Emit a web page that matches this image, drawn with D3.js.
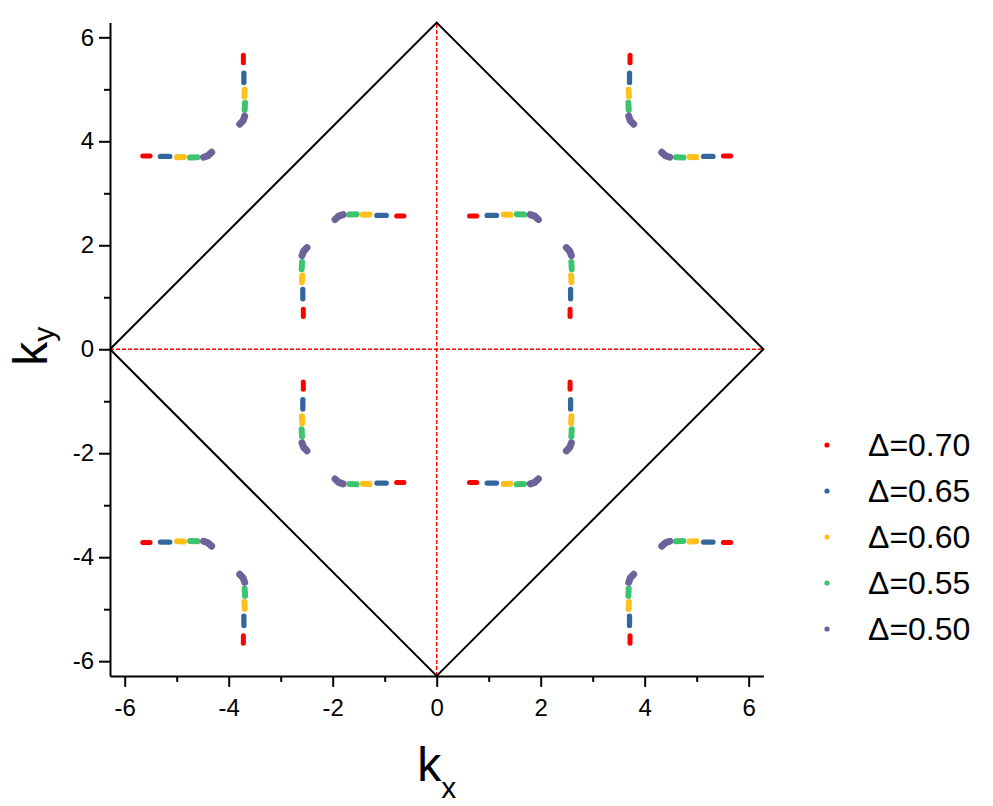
<!DOCTYPE html>
<html>
<head>
<meta charset="utf-8">
<script src="https://cdn.jsdelivr.net/npm/d3@7"></script>
<style>
  html, body { margin: 0; padding: 0; background: #fff; }
  svg { display: block; font-family: Arial, "Liberation Sans", sans-serif; }
</style>
</head>
<body>
<svg id="chart" width="993" height="806"></svg>
<script>
// gap values (legend order)
var deltas = ["0.70", "0.65", "0.60", "0.55", "0.50"];
var colors = ["#ff0000", "#33679c", "#ffc01e", "#3cc46e", "#6b6399"];

// one branch of the contour (first quadrant, kx ~ 2.58);
// the other 15 branches are its symmetry images
var arc070 = [[2.565, 0.63], [2.565, 0.77]];
var arc065 = [[2.575, 0.97], [2.575, 1.15]];
var arc060 = [[2.592, 1.29], [2.585, 1.42]];
var arc055 = [[2.597, 1.54], [2.59, 1.68]];
var arc050 = [[2.59, 1.80], [2.56, 1.885], [2.495, 1.955]];
var arcs = [arc070, arc065, arc060, arc055, arc050];

var majorTicks = [-6, -4, -2, 0, 2, 4, 6];
var minorTicks = [-5, -3, -1, 1, 3, 5];

var TWO_PI = 2 * Math.PI;
var zone = [[-TWO_PI, 0], [0, TWO_PI], [TWO_PI, 0], [0, -TWO_PI], [-TWO_PI, 0]];

var svg = d3.select("#chart");

var x = d3.scaleLinear().domain([-TWO_PI, TWO_PI]).range([110, 763.4]);
var y = d3.scaleLinear().domain([-TWO_PI, TWO_PI]).range([675.9, 22.6]);

var line = d3.line().x(function(p){ return x(p[0]); }).y(function(p){ return y(p[1]); });

// symmetry images of one branch
function images(pts) {
  var out = [];
  [[1, 1], [-1, 1], [-1, -1], [1, -1]].forEach(function(s){
    var sx = s[0], sy = s[1];
    out.push(pts.map(function(p){ return [sx * p[0], sy * p[1]]; }));
    out.push(pts.map(function(p){ return [sx * p[1], sy * p[0]]; }));
    out.push(pts.map(function(p){ return [sx * (TWO_PI - p[0]), sy * (TWO_PI - p[1])]; }));
    out.push(pts.map(function(p){ return [sx * (TWO_PI - p[1]), sy * (TWO_PI - p[0])]; }));
  });
  return out;
}

// red dashed cross through the origin
svg.append("path")
  .attr("d", line([[0, -TWO_PI], [0, TWO_PI]]) + line([[-TWO_PI, 0], [TWO_PI, 0]]))
  .attr("stroke", "#ff0000")
  .attr("stroke-width", 1.4)
  .attr("stroke-dasharray", "4,2")
  .attr("fill", "none");

// zone boundary
svg.append("path")
  .attr("d", line(zone))
  .attr("stroke", "#000")
  .attr("stroke-width", 2)
  .attr("fill", "none");

// contour segments
var widths = [5, 5.3, 6, 6, 7];
arcs.forEach(function(arc, i){
  svg.append("g")
    .selectAll("path")
    .data(images(arc))
    .enter()
    .append("path")
    .attr("d", line)
    .attr("fill", "none")
    .attr("stroke", colors[i])
    .attr("stroke-width", widths[i])
    .attr("stroke-linecap", "round")
    .attr("stroke-linejoin", "round");
});

// axes
function styleAxis(g) {
  g.attr("font-size", 24).attr("font-family", "Arial, 'Liberation Sans', sans-serif");
  g.selectAll(".domain").attr("stroke", "#000").attr("stroke-width", 2);
  g.selectAll(".tick line").attr("stroke", "#000").attr("stroke-width", 2);
  g.selectAll(".tick text").attr("fill", "#000");
}

var xAxis = svg.append("g")
  .attr("transform", "translate(0," + y(-TWO_PI) + ")")
  .call(d3.axisBottom(x).tickValues(majorTicks).tickSize(11).tickSizeOuter(0).tickPadding(12)
    .tickFormat(function(d){ return String(d); }));
styleAxis(xAxis);
svg.append("g")
  .attr("transform", "translate(0," + y(-TWO_PI) + ")")
  .call(d3.axisBottom(x).tickValues(minorTicks).tickSize(6).tickFormat(""))
  .call(function(g){ g.select(".domain").remove(); g.selectAll(".tick line").attr("stroke", "#000").attr("stroke-width", 2); });

var yAxis = svg.append("g")
  .attr("transform", "translate(" + x(-TWO_PI) + ",0)")
  .call(d3.axisLeft(y).tickValues(majorTicks).tickSize(11).tickSizeOuter(0).tickPadding(5)
    .tickFormat(function(d){ return String(d); }));
styleAxis(yAxis);
svg.append("g")
  .attr("transform", "translate(" + x(-TWO_PI) + ",0)")
  .call(d3.axisLeft(y).tickValues(minorTicks).tickSize(6).tickFormat(""))
  .call(function(g){ g.select(".domain").remove(); g.selectAll(".tick line").attr("stroke", "#000").attr("stroke-width", 2); });

// axis titles
var xt = svg.append("text")
  .attr("x", x(0)).attr("y", 781)
  .attr("text-anchor", "middle")
  .attr("font-size", 48);
xt.append("tspan").text("k");
xt.append("tspan").attr("font-size", 30).attr("dy", 17).text("x");

var yt = svg.append("text")
  .attr("transform", "translate(47," + (y(0) - 3) + ") rotate(-90)")
  .attr("text-anchor", "middle")
  .attr("font-size", 48);
yt.append("tspan").text("k");
yt.append("tspan").attr("font-size", 30).attr("dy", 7).text("y");

// legend
var legend = svg.append("g").attr("transform", "translate(827,445)");
var rows = legend.selectAll("g")
  .data(deltas)
  .enter()
  .append("g")
  .attr("transform", function(d, i){ return "translate(0," + (i * 46) + ")"; });
rows.append("circle")
  .attr("r", 2.6)
  .attr("fill", function(d, i){ return colors[i]; });
rows.append("text")
  .attr("x", 41)
  .attr("dy", "0.35em")
  .attr("font-size", 32)
  .text(function(d){ return "\u0394=" + d; });
</script>
</body>
</html>
